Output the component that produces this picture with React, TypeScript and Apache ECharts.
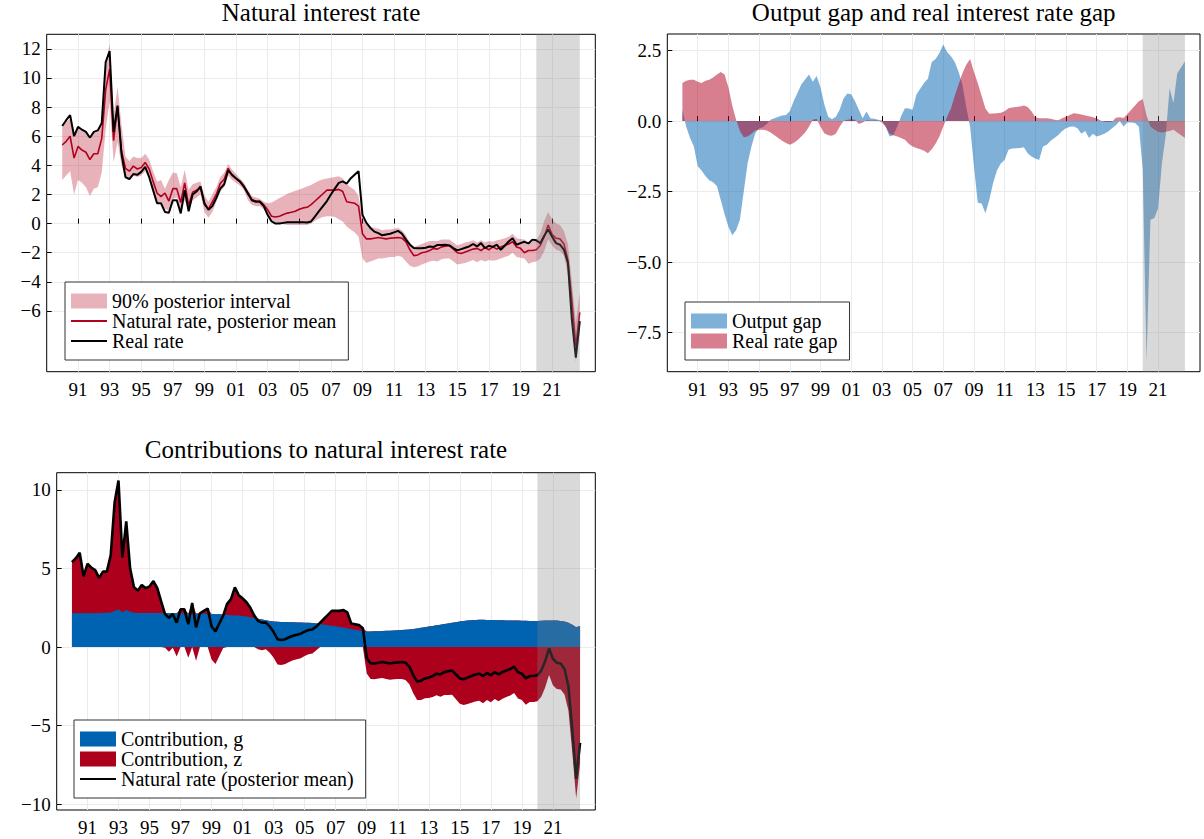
import React, { useEffect, useRef } from "react";
import * as echarts from "echarts";

// ---------- data (quarterly, first quarter = 1990Q1) ----------
const START_YEAR = 1990;

const naturalRate = [
  5.4, 5.65, 6.0, 4.5, 5.3, 5.05, 4.9, 4.4, 4.8, 4.8,
  5.85, 9.2, 10.6, 5.7, 8.0, 5.0, 3.8, 3.6, 3.95, 3.75,
  3.85, 4.2, 3.75, 2.9, 2.1, 1.85, 2.1, 1.55, 2.4, 2.4,
  1.45, 2.8, 1.25, 2.15, 2.3, 2.45, 1.3, 1.0, 1.5, 2.0,
  2.75, 3.05, 3.8, 3.3, 3.1, 2.85, 2.5, 2.0, 1.65, 1.55,
  1.55, 1.3, 0.95, 0.5, 0.45, 0.5, 0.62, 0.72, 0.78, 0.85,
  0.98, 1.08, 1.12, 1.3, 1.55, 1.8, 2.05, 2.3, 2.3, 2.3,
  2.35, 2.2, 1.5, 1.45, 1.4, 1.2, -0.7, -1.05, -1.05, -1.0,
  -0.95, -1.0, -1.05, -1.0, -0.98, -0.95, -1.0, -1.25, -1.8, -2.2,
  -2.15, -2.0, -1.95, -1.85, -1.7, -1.75, -1.6, -1.55, -1.5, -1.75,
  -2.0, -2.05, -1.95, -1.85, -1.75, -1.7, -1.85, -1.65, -1.8, -1.6,
  -1.75, -1.6, -1.5, -1.4, -1.25, -1.6, -1.7, -2.0, -1.85, -1.85,
  -1.8, -1.5, -0.9, -0.1, -0.75, -1.0, -1.05, -1.4, -2.5, -5.3, -8.4, -6.1,
];

const realRate = [
  6.7, 7.1, 7.45, 6.0, 6.65, 6.45, 6.3, 5.9, 6.3, 6.4,
  6.9, 11.1, 11.85, 6.3, 8.1, 4.8, 3.2, 3.05, 3.4, 3.35,
  3.55, 3.9, 3.2, 2.3, 1.4, 1.4, 0.8, 0.75, 1.6, 1.6,
  0.7, 2.3, 0.85, 2.0, 2.2, 2.55, 1.4, 0.95, 1.2, 1.75,
  2.4, 2.7, 3.65, 3.35, 3.1, 2.9, 2.55, 2.1, 1.6, 1.5,
  1.5, 1.2, 0.6, 0.15, 0.0, 0.0, 0.05, 0.1, 0.1, 0.1,
  0.1, 0.1, 0.08, 0.15, 0.5, 0.85, 1.2, 1.55, 2.0, 2.4,
  2.8, 2.9, 2.75, 3.1, 3.35, 3.6, 0.6, 0.05, -0.3, -0.55,
  -0.65, -0.8, -0.75, -0.7, -0.6, -0.5, -0.7, -1.1, -1.45, -1.68,
  -1.7, -1.7, -1.66, -1.57, -1.6, -1.47, -1.47, -1.45, -1.5, -1.68,
  -1.84, -1.75, -1.66, -1.57, -1.4, -1.57, -1.34, -1.68, -1.52, -1.6,
  -1.45, -1.8, -1.52, -1.23, -1.0, -1.45, -1.34, -1.25, -1.36, -1.1,
  -1.15, -1.34, -0.84, -0.4, -0.9, -1.34, -1.45, -1.8, -2.7, -6.6, -9.2, -6.7,
];

const bandLower = [
  3.0, 3.3, 3.6, 2.0, 3.0, 2.8, 2.5, 1.9, 2.4, 2.5,
  3.5, 6.5, 8.4, 4.2, 5.6, 4.0, 3.1, 3.0, 3.3, 3.2,
  3.3, 3.6, 3.1, 2.1, 1.4, 1.5, 1.0, 0.9, 1.7, 1.8,
  0.8, 1.6, 0.9, 1.6, 1.8, 2.0, 0.8, 0.4, 0.8, 1.5,
  2.2, 2.5, 3.3, 3.0, 2.8, 2.6, 2.3, 1.6, 1.3, 1.2,
  1.2, 1.0, 0.5, 0.25, 0.1, 0.0, -0.05, -0.1, -0.1, -0.1,
  -0.1, -0.1, -0.1, 0.0, 0.2, 0.35, 0.45, 0.5, 0.5, 0.45,
  0.3, 0.15, -0.2, -0.4, -0.6, -0.9, -2.4, -2.7, -2.6, -2.5,
  -2.4, -2.4, -2.35, -2.3, -2.3, -2.2, -2.3, -2.6, -2.9, -3.0,
  -2.95, -2.8, -2.7, -2.6, -2.55, -2.6, -2.45, -2.4, -2.4, -2.6,
  -2.8, -2.75, -2.7, -2.6, -2.5, -2.65, -2.5, -2.6, -2.5, -2.55,
  -2.5, -2.4, -2.3, -2.2, -2.0, -2.3, -2.35, -2.4, -2.75, -2.65,
  -2.6, -2.4, -1.9, -1.1, -1.5, -1.8, -1.9, -2.2, -3.5, -6.8, -9.5, -7.4,
];

const bandUpper = [
  6.6, 7.0, 7.2, 5.9, 6.6, 6.4, 6.2, 5.8, 6.2, 6.3,
  7.2, 10.9, 12.35, 7.5, 9.4, 6.8, 4.6, 4.3, 4.6, 4.5,
  4.5, 4.8, 4.4, 3.6, 2.9, 3.0, 2.4, 3.0, 3.5, 3.45,
  2.5, 3.7, 2.3, 2.7, 2.8, 2.9, 1.95, 1.5, 2.0, 2.5,
  3.2, 3.5, 4.1, 3.7, 3.4, 3.1, 2.8, 2.3, 1.9, 1.8,
  1.7, 1.5, 1.4, 1.45, 1.6, 1.75, 1.9, 2.05, 2.15, 2.25,
  2.35, 2.45, 2.55, 2.65, 2.8, 2.95, 3.05, 3.1, 3.15, 3.2,
  3.25, 3.1, 2.7, 2.5, 2.3, 1.9, 0.4, 0.0, -0.2, -0.3,
  -0.35, -0.45, -0.4, -0.4, -0.35, -0.3, -0.45, -0.8, -1.3, -1.6,
  -1.5, -1.4, -1.3, -1.2, -1.2, -1.2, -1.1, -1.1, -1.1, -1.3,
  -1.5, -1.4, -1.3, -1.25, -1.15, -1.3, -1.15, -1.3, -1.2, -1.25,
  -1.15, -1.1, -1.0, -0.9, -0.7, -1.0, -1.05, -1.1, -1.3, -1.2,
  -1.1, -0.7, 0.2, 0.8, 0.3, 0.0, -0.1, -0.5, -1.4, -4.0, -6.8, -4.7,
];

const outputGap = [
  0.4, -0.2, -0.6, -0.9, -1.6, -1.75, -1.95, -2.1, -2.17, -2.3,
  -2.8, -3.3, -3.75, -4.05, -3.87, -3.5, -2.5, -1.5, -0.9, -0.43,
  -0.25, -0.22, -0.1, 0.05, 0.1, 0.15, 0.2, 0.22, 0.35, 0.7,
  1.0, 1.3, 1.48, 1.65, 1.4, 1.6, 1.2, 0.6, 0.15, 0.07,
  0.15, 0.4, 0.8, 0.98, 0.95, 0.7, 0.4, 0.1, 0.34, 0.1,
  0.08, 0.05, 0.02, -0.19, -0.55, -0.5, -0.2, 0.17, 0.46, 0.45,
  0.4, 0.94, 1.15, 1.35, 1.5, 2.1, 2.2, 2.42, 2.72, 2.45,
  2.3, 2.1, 1.75, 1.3, 0.5, -0.2, -1.6, -2.9, -2.92, -3.27,
  -2.8, -2.2, -1.75, -1.5, -1.38, -1.02, -0.97, -0.96, -0.95, -0.93,
  -1.14, -1.26, -1.33, -1.38, -0.9, -0.84, -0.7, -0.6, -0.49, -0.35,
  -0.25, -0.2, -0.19, -0.25, -0.45, -0.35, -0.6, -0.45, -0.55, -0.5,
  -0.45, -0.37, -0.25, -0.15, 0.0, -0.19, -0.05, -0.05, -0.07, -0.2,
  -1.7, -8.5, -3.5, -3.45, -3.1, -1.5, -0.5, 1.17, 0.64, 1.7, 1.9, 2.12,
];

const realRateGap = [
  1.35, 1.43, 1.47, 1.47, 1.4, 1.35, 1.43, 1.47, 1.55, 1.65,
  1.74, 1.65, 1.2, 0.55, 0.05, -0.35, -0.57, -0.55, -0.45, -0.33,
  -0.31, -0.31, -0.33, -0.4, -0.5, -0.6, -0.7, -0.78, -0.84, -0.78,
  -0.68, -0.55, -0.4, -0.2, 0.05, 0.08, -0.2, -0.43, -0.5, -0.52,
  -0.45, -0.2, 0.0, 0.05, 0.07, 0.05, -0.1, -0.05, 0.03, 0.02,
  0.02, 0.02, -0.05, -0.2, -0.45, -0.5, -0.55, -0.6, -0.66, -0.8,
  -0.9, -0.95, -1.0, -1.05, -1.14, -1.0, -0.8, -0.55, -0.2, 0.15,
  0.45, 0.9, 1.3, 1.7, 2.0, 2.2, 1.75, 1.35, 0.9, 0.45,
  0.26, 0.27, 0.28, 0.3, 0.35, 0.46, 0.48, 0.5, 0.52, 0.55,
  0.5, 0.35, 0.14, 0.1, 0.1, 0.1, 0.08, 0.05, 0.03, 0.1,
  0.15, 0.22, 0.28, 0.26, 0.23, 0.2, 0.17, 0.14, 0.1, 0.02,
  -0.02, -0.03, -0.02, 0.12, 0.14, 0.11, 0.25, 0.4, 0.55, 0.7,
  0.78, 0.2, -0.19, -0.3, -0.38, -0.4, -0.38, -0.35, -0.31, -0.4, -0.5, -0.6,
];

const contributionG = [
  2.15, 2.17, 2.15, 2.17, 2.15, 2.17, 2.15, 2.16, 2.17, 2.18,
  2.2, 2.3, 2.4, 2.2, 2.35, 2.25, 2.18, 2.17, 2.16, 2.16,
  2.17, 2.17, 2.16, 2.16, 2.15, 2.15, 2.15, 2.15, 2.15, 2.15,
  2.14, 2.14, 2.13, 2.13, 2.12, 2.12, 2.1, 2.09, 2.08, 2.07,
  2.05, 2.03, 2.01, 2.0, 1.97, 1.94, 1.9, 1.85, 1.8, 1.75,
  1.7, 1.66, 1.63, 1.61, 1.6, 1.59, 1.58, 1.57, 1.56, 1.56,
  1.55, 1.54, 1.53, 1.5, 1.46, 1.42, 1.39, 1.36, 1.32, 1.28,
  1.24, 1.2, 1.15, 1.1, 1.05, 1.0, 0.98, 0.99, 1.0, 1.01,
  1.02, 1.03, 1.04, 1.05, 1.06, 1.08, 1.1, 1.12, 1.15, 1.18,
  1.22, 1.26, 1.3, 1.34, 1.38, 1.42, 1.46, 1.5, 1.54, 1.58,
  1.62, 1.65, 1.68, 1.7, 1.72, 1.73, 1.73, 1.72, 1.72, 1.71,
  1.7, 1.7, 1.69, 1.69, 1.68, 1.68, 1.67, 1.67, 1.66, 1.66,
  1.66, 1.67, 1.68, 1.69, 1.69, 1.68, 1.66, 1.63, 1.55, 1.42, 1.25, 1.33,
];

const xTicks = [1991, 1993, 1995, 1997, 1999, 2001, 2003, 2005, 2007, 2009, 2011, 2013, 2015, 2017, 2019, 2021];
const yTicksRate = [-6, -4, -2, 0, 2, 4, 6, 8, 10, 12];
const yTicksGap = [-7.5, -5, -2.5, 0, 2.5];
const yTicksContrib = [-10, -5, 0, 5, 10];
const shadeStart = 2020;
const shadeEnd = 2022.75;

// ---------- helpers ----------
const FONT = '"Liberation Serif", "DejaVu Serif", serif';
const quarters = naturalRate.map((_, i) => START_YEAR + i / 4);
const pairs = (vals: number[]) => vals.map((v, i) => [quarters[i], v]);
const minus = (s: string) => s.replace("-", "\u2212");

const BLUE = "#0063b1";
const RED = "#b2001f";
const RED3 = "#ad001c";
const LINE_ICON = "path://M0,0H36V2H0Z";

function buildOption() {
  const grids = [
    { left: 46.7, top: 34.3, width: 548.6, height: 337.4 },
    { left: 667.3, top: 34, width: 532.7, height: 337.7 },
    { left: 56.7, top: 472.7, width: 538.6, height: 337.3 },
  ].map((g) => ({ ...g, show: true, borderColor: "#000", borderWidth: 1, backgroundColor: "transparent" }));

  const xAxis = [0, 1, 2].map((k) => ({
    type: "value",
    gridIndex: k,
    min: 1989.0175,
    max: 2023.7325,
    axisLine: { show: false },
    axisTick: { show: true, inside: true, length: 5, customValues: xTicks, lineStyle: { color: "#000", width: 1 } },
    axisLabel: {
      customValues: xTicks,
      formatter: (v: number) => String(Math.round(v) % 100).padStart(2, "0"),
      color: "#000",
      fontSize: 19,
      fontFamily: FONT,
      margin: 8,
    },
    splitLine: { show: true, lineStyle: { color: "#ebebeb", width: 1 } },
  }));

  const yAxisBase = (k: number, min: number, max: number, ticks: number[], fmt: (v: number) => string) => ({
    type: "value",
    gridIndex: k,
    min,
    max,
    axisLine: { show: false },
    axisTick: { show: true, inside: true, length: 5, customValues: ticks, lineStyle: { color: "#000", width: 1 } },
    axisLabel: { customValues: ticks, formatter: fmt, color: "#000", fontSize: 19, fontFamily: FONT, margin: 6 },
    splitLine: { show: true, lineStyle: { color: "#ebebeb", width: 1 } },
  });

  const yAxis = [
    yAxisBase(0, -10.17, 13.0, yTicksRate, (v) => minus(String(v))),
    yAxisBase(1, -8.89, 3.09, yTicksGap, (v) => minus(v.toFixed(1))),
    yAxisBase(2, -10.38, 11.1, yTicksContrib, (v) => minus(String(v))),
  ];

  const shade = (k: number) => ({
    type: "line",
    name: "shade" + k,
    xAxisIndex: k,
    yAxisIndex: k,
    data: [],
    silent: true,
    markArea: {
      silent: true,
      z: 6,
      itemStyle: { color: "rgba(128,128,128,0.3)" },
      data: [[{ xAxis: shadeStart }, { xAxis: shadeEnd }]],
    },
  });

  // contribution of z = natural rate - contribution of g
  const zContribution = naturalRate.map((v, i) => v - contributionG[i]);
  const gPlusZPos = zContribution.map((z, i) => contributionG[i] + Math.max(z, 0));
  const zNeg = zContribution.map((v) => Math.min(v, 0));

  const noLine = { width: 0, opacity: 0 };

  const bandRender = (params: any, api: any) => {
    if (params.dataIndex !== 0) return null;
    const pts: number[][] = [];
    for (let i = 0; i < quarters.length; i++) pts.push(api.coord([quarters[i], bandUpper[i]]));
    for (let i = quarters.length - 1; i >= 0; i--) pts.push(api.coord([quarters[i], bandLower[i]]));
    return {
      type: "polygon",
      shape: { points: pts },
      style: { fill: "rgba(178,0,31,0.3)", stroke: "none" },
      silent: true,
    };
  };

  const series: any[] = [
    // Panel 1
    {
      type: "custom", name: "90% posterior interval", xAxisIndex: 0, yAxisIndex: 0,
      data: [[quarters[0], bandLower[0]]], encode: { x: 0, y: 1 },
      renderItem: bandRender, itemStyle: { color: "rgba(178,0,31,0.3)" }, silent: true,
    },
    {
      type: "line", name: "Natural rate, posterior mean", xAxisIndex: 0, yAxisIndex: 0,
      data: pairs(naturalRate), symbol: "none", lineStyle: { color: RED, width: 1.6 }, itemStyle: { color: RED },
    },
    {
      type: "line", name: "Real rate", xAxisIndex: 0, yAxisIndex: 0,
      data: pairs(realRate), symbol: "none", lineStyle: { color: "#000", width: 2 }, itemStyle: { color: "#000" },
    },
    shade(0),
    // Panel 2
    {
      type: "line", name: "Output gap", xAxisIndex: 1, yAxisIndex: 1,
      data: pairs(outputGap), symbol: "none", lineStyle: noLine, itemStyle: { color: BLUE },
      areaStyle: { color: "rgba(0,99,177,0.5)", opacity: 1 },
    },
    {
      type: "line", name: "Real rate gap", xAxisIndex: 1, yAxisIndex: 1,
      data: pairs(realRateGap), symbol: "none", lineStyle: noLine, itemStyle: { color: RED },
      areaStyle: { color: "rgba(178,0,31,0.5)", opacity: 1 },
    },
    shade(1),
    // Panel 3: positive z drawn from 0 up to g+z, then g covers 0..g
    {
      type: "line", name: "Contribution, z", xAxisIndex: 2, yAxisIndex: 2,
      data: pairs(gPlusZPos), symbol: "none", lineStyle: noLine,
      itemStyle: { color: RED3 }, areaStyle: { color: RED3, opacity: 1 },
    },
    {
      type: "line", name: "Contribution, g", xAxisIndex: 2, yAxisIndex: 2,
      data: pairs(contributionG), symbol: "none", lineStyle: noLine,
      itemStyle: { color: BLUE }, areaStyle: { color: BLUE, opacity: 1 },
    },
    {
      type: "line", name: "Contribution, z", xAxisIndex: 2, yAxisIndex: 2,
      data: pairs(zNeg), symbol: "none", lineStyle: noLine,
      itemStyle: { color: RED3 }, areaStyle: { color: RED3, opacity: 1 },
    },
    {
      type: "line", name: "Natural rate (posterior mean)", xAxisIndex: 2, yAxisIndex: 2,
      data: pairs(naturalRate), symbol: "none", lineStyle: { color: "#000", width: 2.6 }, itemStyle: { color: "#000" },
    },
    shade(2),
  ];

  const legendBase = {
    orient: "vertical",
    itemWidth: 36,
    itemHeight: 15,
    itemGap: 0,
    padding: [9, 12, 9, 6],
    borderColor: "#333",
    borderWidth: 1,
    backgroundColor: "#fff",
    selectedMode: false,
    symbolKeepAspect: true,
    textStyle: { fontFamily: FONT, fontSize: 20, color: "#000", lineHeight: 20 },
    z: 20,
  };

  const legend = [
    {
      ...legendBase, left: 65, top: 282,
      data: [
        { name: "90% posterior interval", icon: "rect", itemStyle: { color: "rgba(178,0,31,0.3)" } },
        { name: "Natural rate, posterior mean", icon: LINE_ICON, itemStyle: { color: RED } },
        { name: "Real rate", icon: LINE_ICON, itemStyle: { color: "#000" } },
      ],
    },
    {
      ...legendBase, left: 685, top: 302,
      data: [
        { name: "Output gap", icon: "rect", itemStyle: { color: "rgba(0,99,177,0.5)" } },
        { name: "Real rate gap", icon: "rect", itemStyle: { color: "rgba(178,0,31,0.5)" } },
      ],
    },
    {
      ...legendBase, left: 74, top: 720,
      data: [
        { name: "Contribution, g", icon: "rect", itemStyle: { color: BLUE } },
        { name: "Contribution, z", icon: "rect", itemStyle: { color: RED3 } },
        { name: "Natural rate (posterior mean)", icon: LINE_ICON, itemStyle: { color: "#000" } },
      ],
    },
  ];

  const titleStyle = { fontFamily: FONT, fontSize: 25, fontWeight: "normal", color: "#000" };
  const title = [
    { text: "Natural interest rate", left: 321, top: 0, textAlign: "center", padding: 0, textStyle: titleStyle },
    { text: "Output gap and real interest rate gap", left: 933.7, top: 0, textAlign: "center", padding: 0, textStyle: titleStyle },
    { text: "Contributions to natural interest rate", left: 326, top: 437, textAlign: "center", padding: 0, textStyle: titleStyle },
  ];

  return {
    animation: false,
    backgroundColor: "#fff",
    title,
    legend,
    grid: grids,
    xAxis,
    yAxis,
    series,
  };
}

export default function App() {
  const ref = useRef<HTMLDivElement>(null);
  useEffect(() => {
    if (!ref.current) return;
    const chart = echarts.init(ref.current, null, { renderer: "svg" });
    chart.setOption(buildOption() as any);
    return () => chart.dispose();
  }, []);
  return (
    <div
      ref={ref}
      style={{ position: "fixed", left: 0, top: 0, width: 1204, height: 839, background: "#fff" }}
    />
  );
}
